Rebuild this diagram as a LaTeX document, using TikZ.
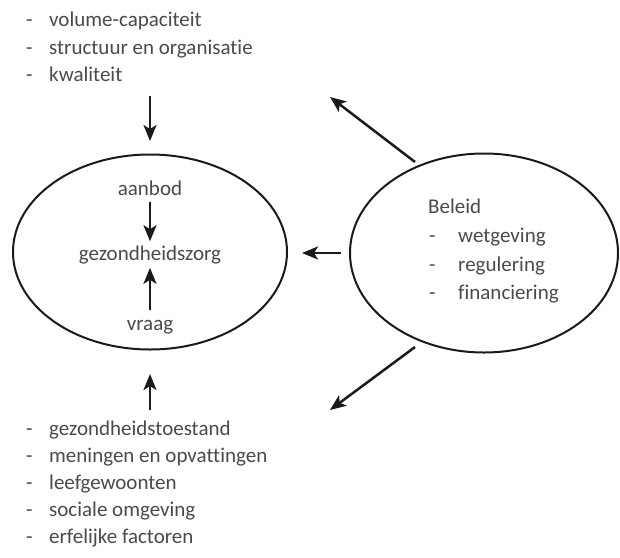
\documentclass[tikz,border=0pt]{standalone}
\usepackage{fontspec}
\setmainfont{Carlito}[Ligatures=NoCommon]
\usepackage{xcolor}
\usetikzlibrary{arrows.meta,positioning,calc,shapes.geometric}
\definecolor{txtc}{HTML}{4A4A4A}
\definecolor{linec}{HTML}{1A1A1A}
\tikzset{
  ell/.style={draw=linec, ellipse, line width=2pt, inner sep=0pt},
  lbl/.style={inner sep=0pt, text=txtc, font=\fontsize{21}{28}\selectfont},
  arr/.style={-{Stealth[length=16pt, width=13pt, inset=4pt]}, line width=2.5pt, draw=linec},
}
\newcommand{\dashitem}[2][23pt]{\makebox[#1][l]{-}#2}

\begin{document}
\begin{tikzpicture}[x=1pt, y=-1pt]
  \useasboundingbox (0,0) rectangle (620,557);
  % two ellipses
  \node[ell, minimum width=274pt, minimum height=195pt] (zorg) at (150,252) {};
  \node[ell, minimum width=268pt, minimum height=199pt] (beleid) at (484,253) {};
  % inside left ellipse
  \node[lbl, anchor=base] (aanbod) at (150,195) {aanbod};
  \node[lbl, anchor=base] (gzorg) at (150,260) {gezondheidszorg};
  \node[lbl, anchor=base] (vraag) at (150,330) {vraag};
  \draw[arr, shorten <=7pt, shorten >=4pt] (aanbod) -- (gzorg);
  \draw[arr, shorten <=10pt, shorten >=4pt] (vraag) -- (gzorg);
  % inside right ellipse
  \node[lbl, anchor=base west] (bel) at (428,213) {Beleid};
  \foreach \t [count=\i] in {wetgeving, regulering, financiering}
    \node[lbl, anchor=base west] (bel\i) at (429,{213.5+\i*28.8}) {\dashitem[29pt]{\t}};
  % lists
  \foreach \t [count=\i] in {volume-capaciteit, structuur en organisatie, kwaliteit}
    \node[lbl, anchor=base west] (top\i) at (26,{26.5+(\i-1)*27.5}) {\dashitem{\t}};
  \foreach \t [count=\i] in {gezondheidstoestand, meningen en opvattingen, leefgewoonten, sociale omgeving, erfelijke factoren}
    \node[lbl, anchor=base west] (bot\i) at (26,{435+(\i-1)*27.2}) {\dashitem{\t}};
  % outer arrows
  \draw[arr, shorten <=14.5pt, shorten >=12.5pt] (top3.south -| zorg.north) -- (zorg.north);
  \draw[arr, shorten <=10.5pt, shorten >=23.5pt] (bot1.north -| zorg.south) -- (zorg.south);
  \draw[arr, shorten <=8pt, shorten >=14pt] (beleid.west) -- (beleid.west -| zorg.east);
  \coordinate (upstart) at (415,162);
  \coordinate (upend) at (330,97);
  \coordinate (downstart) at (415,347);
  \coordinate (downend) at (330,410);
  \draw[arr] (upstart) -- (upend);
  \draw[arr] (downstart) -- (downend);
\end{tikzpicture}
\end{document}
